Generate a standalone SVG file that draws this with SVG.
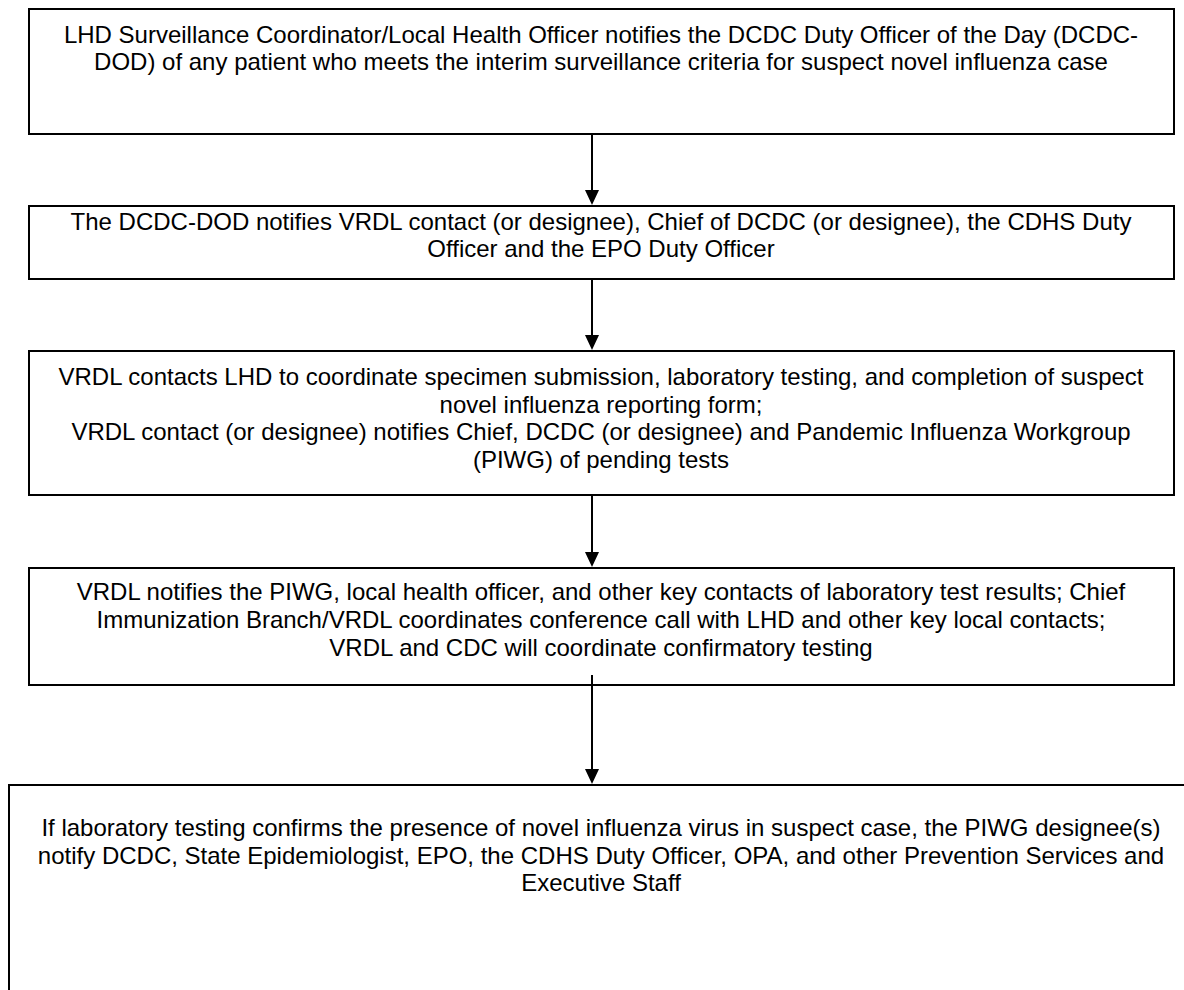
<svg xmlns="http://www.w3.org/2000/svg" width="1184" height="990" viewBox="0 0 1184 990">
<style>
.box{fill:#fff;stroke:#000;stroke-width:2}
.t{font-family:"Liberation Sans",Arial,sans-serif;font-size:24px;fill:#000;text-anchor:middle}
.c{stroke:#000;stroke-width:2;fill:none}
</style>
<defs>
<marker id="ah" markerWidth="8" markerHeight="8" refX="8" refY="4" orient="auto" markerUnits="strokeWidth" viewBox="0 0 8 8">
<path d="M0,0 L8,4 L0,8 Z" fill="#000"/>
</marker>
</defs>
<rect width="1184" height="990" fill="#fff"/>
<g id="n1">
<rect class="box" x="29" y="9" width="1145" height="125"/>
<text class="t" x="601" y="43">LHD Surveillance Coordinator/Local Health Officer notifies the DCDC Duty Officer of the Day (DCDC-</text>
<text class="t" x="601" y="70">DOD) of any patient who meets the interim surveillance criteria for suspect novel influenza case</text>
</g>
<g id="n2">
<rect class="box" x="29" y="206" width="1145" height="73"/>
<text class="t" x="601" y="230">The DCDC-DOD notifies VRDL contact (or designee), Chief of DCDC (or designee), the CDHS Duty</text>
<text class="t" x="601" y="257">Officer and the EPO Duty Officer</text>
</g>
<g id="n3">
<rect class="box" x="29" y="351" width="1145" height="144"/>
<text class="t" x="601" y="385">VRDL contacts LHD to coordinate specimen submission, laboratory testing, and completion of suspect</text>
<text class="t" x="601" y="412.5">novel influenza reporting form;</text>
<text class="t" x="601" y="440">VRDL contact (or designee) notifies Chief, DCDC (or designee) and Pandemic Influenza Workgroup</text>
<text class="t" x="601" y="467.5">(PIWG) of pending tests</text>
</g>
<g id="n4">
<rect class="box" x="29" y="568" width="1145" height="117"/>
<text class="t" x="601" y="600">VRDL notifies the PIWG, local health officer, and other key contacts of laboratory test results; Chief</text>
<text class="t" x="601" y="628">Immunization Branch/VRDL coordinates conference call with LHD and other key local contacts;</text>
<text class="t" x="601" y="656">VRDL and CDC will coordinate confirmatory testing</text>
</g>
<g id="n5">
<rect class="box" x="9" y="785" width="1200" height="220"/>
<text class="t" x="601" y="836">If laboratory testing confirms the presence of novel influenza virus in suspect case, the PIWG designee(s)</text>
<text class="t" x="601" y="864">notify DCDC, State Epidemiologist, EPO, the CDHS Duty Officer, OPA, and other Prevention Services and</text>
<text class="t" x="601" y="891">Executive Staff</text>
</g>
<g id="connectors">
<line class="c" x1="592" y1="134" x2="592" y2="191"/>
<path d="M585,190 L599,190 L592,205 Z" fill="#000"/>
<line class="c" x1="592" y1="279" x2="592" y2="336"/>
<path d="M585,335 L599,335 L592,350 Z" fill="#000"/>
<line class="c" x1="592" y1="495" x2="592" y2="553"/>
<path d="M585,552 L599,552 L592,567 Z" fill="#000"/>
<line class="c" x1="592" y1="675" x2="592" y2="770"/>
<path d="M585,769 L599,769 L592,784 Z" fill="#000"/>
</g>
</svg>
